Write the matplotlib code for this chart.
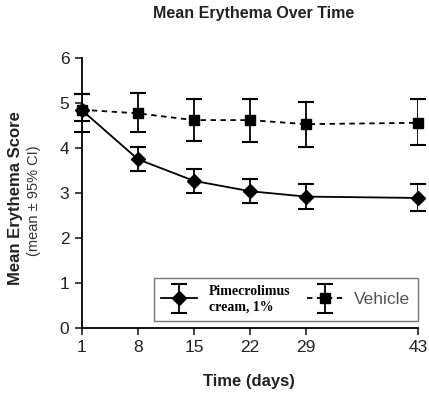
import matplotlib
matplotlib.use("Agg")
import matplotlib.pyplot as plt
from matplotlib.container import ErrorbarContainer
from matplotlib.legend_handler import HandlerErrorbar

# days of visit
days = [1, 8, 15, 22, 29, 43]

# Pimecrolimus cream 1% : mean and 95% CI bounds
pime_mean = [4.84, 3.75, 3.27, 3.04, 2.92, 2.89]
pime_low = [4.36, 3.49, 2.99, 2.77, 2.64, 2.61]
pime_high = [5.20, 4.03, 3.53, 3.31, 3.21, 3.19]

# Vehicle : mean and 95% CI bounds
veh_mean = [4.85, 4.77, 4.62, 4.62, 4.53, 4.56]
veh_low = [4.60, 4.36, 4.16, 4.13, 4.03, 4.07]
veh_high = [5.20, 5.23, 5.10, 5.10, 5.03, 5.09]

labels = ["Pimecrolimus\ncream, 1%", "Vehicle"]
x_ticks = [1, 8, 15, 22, 29, 43]
y_ticks = [0, 1, 2, 3, 4, 5, 6]

plt.rcParams['font.family'] = ['Liberation Sans', 'DejaVu Sans']

fig = plt.figure(figsize=(4.29, 3.93), dpi=100)
ax = fig.add_axes([0.191, 0.1654, 0.783, 0.687])

pime_err = [[m - l for m, l in zip(pime_mean, pime_low)],
            [h - m for m, h in zip(pime_mean, pime_high)]]
veh_err = [[m - l for m, l in zip(veh_mean, veh_low)],
           [h - m for m, h in zip(veh_mean, veh_high)]]

h1 = ax.errorbar(days, pime_mean, yerr=pime_err, fmt='D-', color='black',
                 markersize=7, linewidth=1.3, elinewidth=1.3, capsize=6,
                 capthick=1.5, label=labels[0], zorder=3)
h2 = ax.errorbar(days, veh_mean, yerr=veh_err, fmt='s--', color='black',
                 markersize=7.5, linewidth=1.3, elinewidth=1.3, capsize=6,
                 capthick=1.5, label=labels[1], dashes=(3, 2.5), zorder=3)

ax.set_xlim(1, 43)
ax.set_ylim(0, 6)
ax.set_xticks(x_ticks)
ax.set_yticks(y_ticks)
ax.spines['top'].set_visible(False)
ax.spines['right'].set_visible(False)
for s in ['left', 'bottom']:
    ax.spines[s].set_linewidth(1.3)
ax.tick_params(direction='out', length=5, width=1.2, labelsize=12.5,
               colors='#222222', pad=4)
for line in ax.lines:
    line.set_clip_on(False)

# title and axis labels
fig.text(0.592, 0.965, "Mean Erythema Over Time", ha='center', va='center',
         fontsize=11.5, fontweight='bold', color='#222222')
fig.text(0.581, 0.03, "Time (days)", ha='center', va='center',
         fontsize=12, fontweight='bold', color='#222222')
fig.text(0.036, 0.496, "Mean Erythema Score", ha='center', va='center',
         rotation=90, fontsize=12, fontweight='bold', color='#222222')
fig.text(0.08, 0.49, "(mean \u00b1 95% CI)", ha='center', va='center',
         rotation=90, fontsize=10.5, color='#333333')

leg = ax.legend(handles=[h1, h2], loc='lower right',
                bbox_to_anchor=(1.0, 0.026), ncol=2, frameon=True,
                fancybox=False, edgecolor='#555555', handlelength=2.6,
                handleheight=1.2, borderpad=0.55, columnspacing=1.2,
                handletextpad=0.8, borderaxespad=0,
                handler_map={ErrorbarContainer: HandlerErrorbar(yerr_size=1.05)})
leg.get_frame().set_linewidth(1.0)
t1, t2 = leg.get_texts()
t1.set_fontfamily('Liberation Serif')
t1.set_fontweight('bold')
t1.set_fontsize(10)
t2.set_fontsize(12.5)
t2.set_color('#555555')

fig.savefig("out.png", dpi=100)
